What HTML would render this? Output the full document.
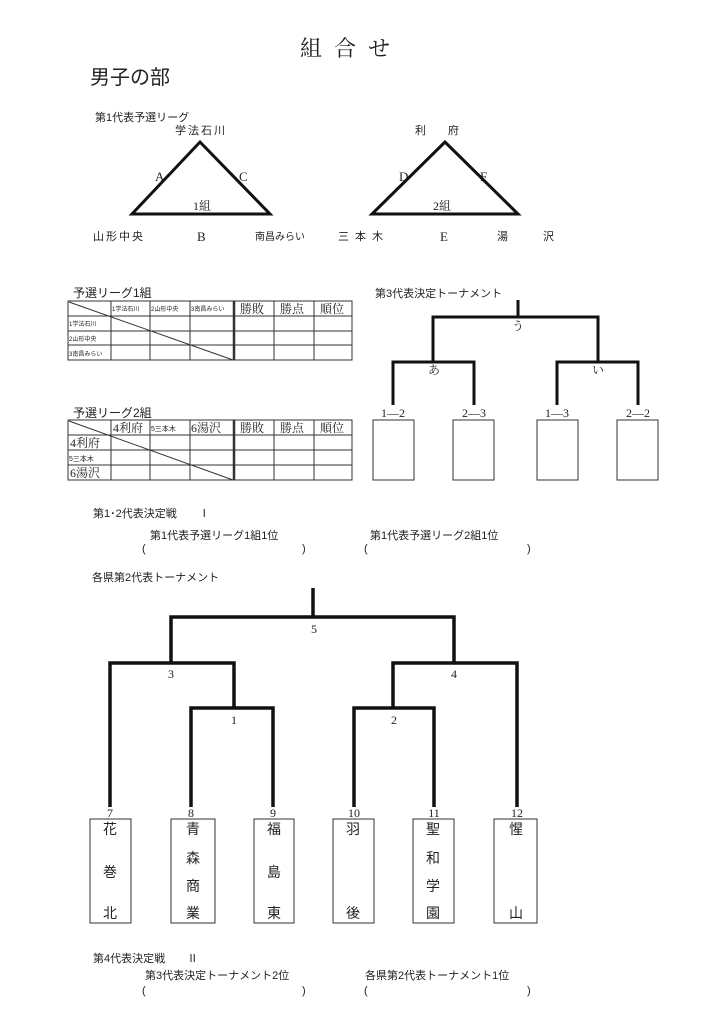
<!DOCTYPE html>
<html><head><meta charset="utf-8"><style>
html,body{margin:0;padding:0;background:#fff;}
svg{display:block;font-family:"Liberation Serif","Noto Serif CJK SC","Noto Sans CJK JP",serif;}
.s{font-family:"Liberation Sans","Noto Sans CJK JP",sans-serif;}
</style></head><body>
<svg width="724" height="1024" viewBox="0 0 724 1024" xmlns="http://www.w3.org/2000/svg">
<g fill="#222">
<text x="300" y="56" font-size="22" letter-spacing="12">組合せ</text>
<text x="90" y="84" font-size="20" class="s">男子の部</text>
<text x="95" y="121" font-size="11" class="s">第1代表予選リーグ</text>
<text x="175" y="134" font-size="11" class="s" letter-spacing="2">学法石川</text>
<text x="415" y="134" font-size="11" class="s">利　　府</text>
<text x="155" y="181" font-size="13">A</text>
<text x="239" y="181" font-size="13">C</text>
<text x="399" y="181" font-size="13">D</text>
<text x="480" y="181" font-size="13">F</text>
<text x="193" y="210" font-size="12">1組</text>
<text x="433" y="210" font-size="12">2組</text>
<text x="93" y="240" font-size="11" class="s" letter-spacing="2">山形中央</text>
<text x="197" y="241" font-size="13">B</text>
<text x="255" y="240" font-size="10" class="s">南昌みらい</text>
<text x="338" y="240" font-size="11" class="s" letter-spacing="6">三本木</text>
<text x="440" y="241" font-size="13">E</text>
<text x="497" y="240" font-size="11" class="s">湯</text>
<text x="543" y="240" font-size="11" class="s">沢</text>
</g>
<g stroke="#111" stroke-width="3" fill="none">
<polygon points="200,142 132,214 270,214"/>
<polygon points="445,142 372,214 518,214"/>
</g>
<g fill="#222" class="s">
<text x="73" y="297" font-size="12">予選リーグ1組</text>
<text x="73" y="417" font-size="12">予選リーグ2組</text>
<text x="93" y="517" font-size="11">第1･2代表決定戦　　Ⅰ</text>
<text x="150" y="539" font-size="11">第1代表予選リーグ1組1位</text>
<text x="370" y="539" font-size="11">第1代表予選リーグ2組1位</text>
<text x="142" y="552" font-size="11">(</text><text x="302" y="552" font-size="11">)</text>
<text x="364" y="552" font-size="11">(</text><text x="527" y="552" font-size="11">)</text>
<text x="92" y="581" font-size="11">各県第2代表トーナメント</text>
<text x="375" y="297" font-size="11">第3代表決定トーナメント</text>
<text x="93" y="962" font-size="11">第4代表決定戦　　Ⅱ</text>
<text x="145" y="979" font-size="11">第3代表決定トーナメント2位</text>
<text x="365" y="979" font-size="11">各県第2代表トーナメント1位</text>
<text x="142" y="994" font-size="11">(</text><text x="302" y="994" font-size="11">)</text>
<text x="364" y="994" font-size="11">(</text><text x="527" y="994" font-size="11">)</text>
</g>
<g stroke="#333" stroke-width="1" fill="none">
<rect x="68" y="301" width="284" height="59"/>
<line x1="68" y1="316" x2="352" y2="316"/><line x1="68" y1="331" x2="352" y2="331"/><line x1="68" y1="345" x2="352" y2="345"/>
<line x1="111" y1="301" x2="111" y2="360"/><line x1="150" y1="301" x2="150" y2="360"/><line x1="190" y1="301" x2="190" y2="360"/>
<line x1="274" y1="301" x2="274" y2="360"/><line x1="314" y1="301" x2="314" y2="360"/>
<line x1="69" y1="302" x2="233" y2="360"/>
<rect x="68" y="420" width="284" height="60"/>
<line x1="68" y1="435" x2="352" y2="435"/><line x1="68" y1="450" x2="352" y2="450"/><line x1="68" y1="465" x2="352" y2="465"/>
<line x1="111" y1="420" x2="111" y2="480"/><line x1="150" y1="420" x2="150" y2="480"/><line x1="190" y1="420" x2="190" y2="480"/>
<line x1="274" y1="420" x2="274" y2="480"/><line x1="314" y1="420" x2="314" y2="480"/>
<line x1="69" y1="421" x2="233" y2="480"/>
</g>
<g stroke="#333" stroke-width="2.5"><line x1="234" y1="301" x2="234" y2="360"/><line x1="234" y1="420" x2="234" y2="480"/></g>
<g fill="#222" class="s" font-size="6">
<text x="112" y="311">1学法石川</text><text x="151" y="311">2山形中央</text><text x="191" y="311">3南昌みらい</text>
<text x="69" y="326">1学法石川</text><text x="69" y="341">2山形中央</text><text x="69" y="356">3南昌みらい</text>
<text x="151" y="431" font-size="7">5三本木</text><text x="69" y="461" font-size="7">5三本木</text>
</g>
<g fill="#222" font-size="12">
<text x="240" y="313">勝敗</text><text x="280" y="313">勝点</text><text x="320" y="313">順位</text>
<text x="240" y="432">勝敗</text><text x="280" y="432">勝点</text><text x="320" y="432">順位</text>
<text x="113" y="432">4利府</text><text x="191" y="432">6湯沢</text>
<text x="70" y="447">4利府</text><text x="70" y="477">6湯沢</text>
</g>
<g stroke="#111" stroke-width="3" fill="none">
<polyline points="518,300 518,317"/>
<polyline points="433,362 433,317 598,317 598,362"/>
<polyline points="393,405 393,362 474,362 474,405"/>
<polyline points="557,405 557,362 638,362 638,405"/>
</g>
<g stroke="#333" stroke-width="1" fill="none">
<rect x="373" y="420" width="41" height="60"/><rect x="453" y="420" width="41" height="60"/>
<rect x="537" y="420" width="41" height="60"/><rect x="617" y="420" width="41" height="60"/>
</g>
<g fill="#222" font-size="12" text-anchor="middle">
<text x="518" y="330">う</text><text x="434" y="374">あ</text><text x="598" y="374">い</text>
<text x="393" y="417">1―2</text><text x="474" y="417">2―3</text><text x="557" y="417">1―3</text><text x="638" y="417">2―2</text>
</g>
<g stroke="#111" stroke-width="3.5" fill="none">
<polyline points="313,588 313,617"/>
<polyline points="171,663 171,617 454,617 454,663"/>
<polyline points="110,807 110,663 234,663 234,708"/>
<polyline points="191,807 191,708 273,708 273,807"/>
<polyline points="393,708 393,663 517,663 517,807"/>
<polyline points="354,807 354,708 434,708 434,807"/>
</g>
<g fill="#222" font-size="12" text-anchor="middle">
<text x="314" y="633">5</text><text x="171" y="678">3</text><text x="454" y="678">4</text>
<text x="234" y="724">1</text><text x="394" y="724">2</text>
<text x="110" y="817">7</text><text x="191" y="817">8</text><text x="273" y="817">9</text>
<text x="354" y="817">10</text><text x="434" y="817">11</text><text x="517" y="817">12</text>
</g>
<g stroke="#333" stroke-width="1" fill="none">
<rect x="90" y="819" width="41" height="104"/><rect x="171" y="819" width="44" height="104"/>
<rect x="254" y="819" width="40" height="104"/><rect x="333" y="819" width="41" height="104"/>
<rect x="413" y="819" width="41" height="104"/><rect x="494" y="819" width="43" height="104"/>
</g>
<g fill="#222" font-size="14" text-anchor="middle" class="s">
<text x="110" y="834">花</text><text x="110" y="877">巻</text><text x="110" y="918">北</text>
<text x="193" y="834">青</text><text x="193" y="863">森</text><text x="193" y="891">商</text><text x="193" y="918">業</text>
<text x="274" y="834">福</text><text x="274" y="877">島</text><text x="274" y="918">東</text>
<text x="353" y="834">羽</text><text x="353" y="918">後</text>
<text x="433" y="834">聖</text><text x="433" y="863">和</text><text x="433" y="891">学</text><text x="433" y="918">園</text>
<text x="516" y="834">惺</text><text x="516" y="918">山</text>
</g>
</svg>
</body></html>
